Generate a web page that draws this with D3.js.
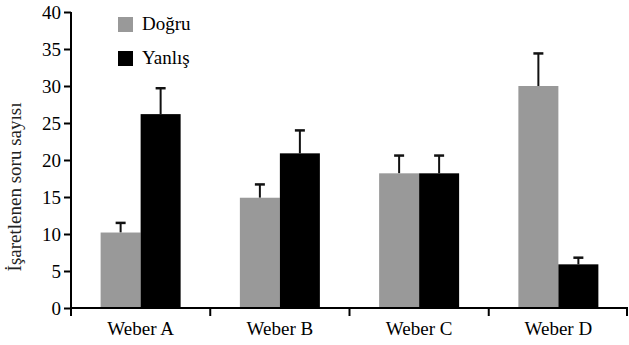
<!DOCTYPE html>
<html>
<head>
<meta charset="utf-8">
<script src="https://cdn.jsdelivr.net/npm/d3@7"></script>
<style>
  body { margin: 0; background: #fff; }
  svg { display: block; font-family: "Liberation Serif", "Times New Roman", serif; }
</style>
</head>
<body>
<svg id="chart" width="629" height="345"></svg>
<script>
const categories = ["Weber A", "Weber B", "Weber C", "Weber D"];
const seriesNames = ["Doğru", "Yanlış"];
const dogruValues = [10.2, 14.9, 18.2, 30.0];
const dogruErrors = [1.3, 1.8, 2.4, 4.4];
const yanlisValues = [26.2, 20.9, 18.2, 5.9];
const yanlisErrors = [3.5, 3.1, 2.4, 0.9];
const yTicks = [0, 5, 10, 15, 20, 25, 30, 35, 40];

const colors = ["#999999", "#000000"];

const svg = d3.select("#chart");
const margin = { top: 12, right: 1, bottom: 37, left: 71 };
const width = +svg.attr("width") - margin.left - margin.right;
const height = +svg.attr("height") - margin.top - margin.bottom;

const g = svg.append("g").attr("transform", `translate(${margin.left},${margin.top})`);

const x = d3.scaleBand().domain(categories).range([0, width]);
const xSub = d3.scaleBand().domain(seriesNames).range([x.bandwidth() / 2 - 40, x.bandwidth() / 2 + 40]);
const y = d3.scaleLinear().domain([0, 40]).range([height, 0]);

const rows = categories.map((c, i) => ({
    cat: c,
    bars: [
        { name: seriesNames[0], value: dogruValues[i], err: dogruErrors[i], color: colors[0] },
        { name: seriesNames[1], value: yanlisValues[i], err: yanlisErrors[i], color: colors[1] }
    ]
}));

const groups = g.selectAll("g.group")
    .data(rows)
    .join("g")
    .attr("class", "group")
    .attr("transform", d => `translate(${x(d.cat)},0)`);

// error bars (drawn first, bar covers the lower part)
groups.selectAll("line.err")
    .data(d => d.bars)
    .join("line")
    .attr("x1", d => xSub(d.name) + xSub.bandwidth() / 2)
    .attr("x2", d => xSub(d.name) + xSub.bandwidth() / 2)
    .attr("y1", d => y(d.value))
    .attr("y2", d => y(d.value + d.err))
    .attr("stroke", "#111")
    .attr("stroke-width", 2);

groups.selectAll("line.cap")
    .data(d => d.bars)
    .join("line")
    .attr("x1", d => xSub(d.name) + xSub.bandwidth() / 2 - 5)
    .attr("x2", d => xSub(d.name) + xSub.bandwidth() / 2 + 5)
    .attr("y1", d => y(d.value + d.err))
    .attr("y2", d => y(d.value + d.err))
    .attr("stroke", "#111")
    .attr("stroke-width", 2.5);

groups.selectAll("rect")
    .data(d => d.bars)
    .join("rect")
    .attr("x", d => xSub(d.name))
    .attr("width", xSub.bandwidth())
    .attr("y", d => y(d.value))
    .attr("height", d => y(0) - y(d.value))
    .attr("fill", d => d.color);

// y axis
const yAxis = g.append("g")
    .call(d3.axisLeft(y).tickValues(yTicks).tickSize(7).tickPadding(3));
yAxis.select(".domain").attr("stroke-width", 2).attr("d", `M0,${height}V0`);
yAxis.selectAll(".tick line").attr("stroke-width", 2);
yAxis.selectAll("text").attr("font-size", 19).attr("font-family", "Liberation Serif");

// x axis: ticks at band boundaries
const xAxis = g.append("g").attr("transform", `translate(0,${height})`);
xAxis.append("line")
    .attr("x1", 0).attr("x2", width)
    .attr("stroke", "#000").attr("stroke-width", 2);
xAxis.selectAll("line.tk")
    .data(categories.map(c => x(c)).concat([width - 1]))
    .join("line")
    .attr("x1", d => d).attr("x2", d => d)
    .attr("y1", 0).attr("y2", 8)
    .attr("stroke", "#000").attr("stroke-width", 2);
xAxis.selectAll("text")
    .data(categories)
    .join("text")
    .attr("x", d => x(d) + x.bandwidth() / 2)
    .attr("y", 27)
    .attr("text-anchor", "middle")
    .attr("font-size", 19)
    .text(d => d);

// y label
svg.append("text")
    .attr("transform", `translate(21,${margin.top + height / 2 + 27}) rotate(-90)`)
    .attr("text-anchor", "middle")
    .attr("font-size", 19)
    .attr("fill", "#222")
    .text("İşaretlenen soru sayısı");

// legend
const legend = svg.append("g").attr("transform", "translate(118,17)");
const items = legend.selectAll("g")
    .data(seriesNames)
    .join("g")
    .attr("transform", (d, i) => `translate(0,${i * 34})`);
items.append("rect").attr("width", 15).attr("height", 15).attr("fill", (d, i) => colors[i]);
items.append("text").attr("x", 24).attr("y", 13).attr("font-size", 19).text(d => d);
</script>
</body>
</html>
